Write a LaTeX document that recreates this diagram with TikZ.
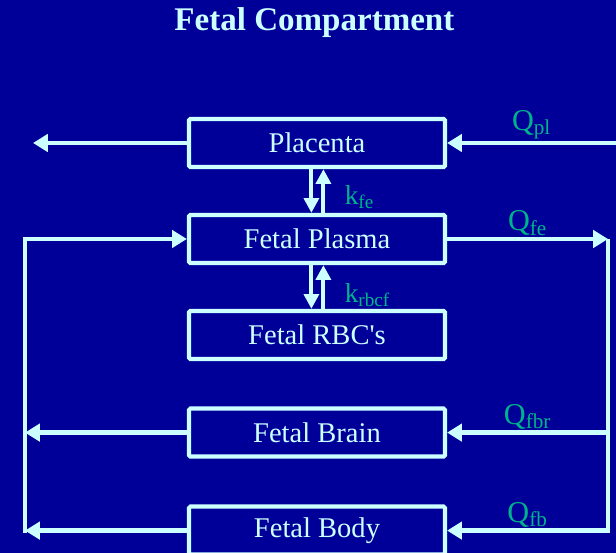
\documentclass[tikz,border=0pt]{standalone}
\usepackage{fontspec}
\setmainfont{Liberation Serif}
\usetikzlibrary{arrows.meta}

\definecolor{slideBlue}{RGB}{0,0,153}
\definecolor{lineCyan}{RGB}{204,255,255}
\definecolor{labelGreen}{RGB}{0,179,140}

\begin{document}
\begin{tikzpicture}[
        compNode/.style={
            rectangle,
            draw=lineCyan,
            line width=3pt,
            rounded corners=1pt,
            minimum width=6.4cm,
            minimum height=1.2cm,
            text=lineCyan,
            font=\fontsize{20.3}{23}\selectfont
        },
        titleNode/.style={
            text=lineCyan,
            font=\fontsize{23.5}{26}\selectfont\bfseries
        },
        flow/.style={
            lineCyan,
            line width=3pt,
            -{Triangle[length=0.37cm,width=0.43cm]}
        },
        line/.style={
            lineCyan,
            line width=3pt
        },
        rate/.style={
            lineCyan,
            line width=2.8pt,
            -{Triangle[length=0.37cm,width=0.37cm]}
        },
        flowLabel/.style={
            text=labelGreen,
            inner sep=1pt,
            font=\fontsize{21.5}{24}\selectfont
        },
        rateLabel/.style={
            text=labelGreen,
            inner sep=1pt,
            font=\fontsize{19.5}{22}\selectfont
        }
    ]
        \fill[slideBlue] (0,0) rectangle (15.4,13.825);
        \useasboundingbox (0,0) rectangle (15.4,13.825);

        \node[titleNode] (title) at (7.86,13.25) {Fetal Compartment};

        \node[compNode] (placenta) at (7.925,10.25) {Placenta};
        \node[compNode] (plasma)   at (7.925,7.85)  {Fetal Plasma};
        \node[compNode] (rbc)      at (7.925,5.45)  {Fetal RBC\textquotesingle s};
        \node[compNode] (brain)    at (7.925,3.01)  {Fetal Brain};
        \node[compNode] (body)     at (7.925,0.56)  {Fetal Body};

        \coordinate (outPl)  at (0.825,10.25);
        \coordinate (inPl)   at (15.4,10.25);
        \coordinate (retL)   at (0.625,0.5);
        \coordinate (splitR) at (15.2,7.85);
        \coordinate (retR)   at (15.2,0.5);

        % placenta in and out
        \draw[flow] (placenta) -- (outPl);
        \draw[flow] (inPl) -- (placenta)
            node[flowLabel, midway, above] {Q\textsubscript{pl}};

        % return loop and feed
        \draw[flow] (retL) |- (plasma);
        \draw[flow] (plasma) -- (splitR)
            node[flowLabel, midway, above] {Q\textsubscript{fe}};
        \draw[line] (splitR) -- (retR);

        \draw[flow] (brain -| splitR) -- (brain)
            node[flowLabel, midway, above] {Q\textsubscript{fbr}};
        \draw[flow] (brain) -- (brain -| retL);
        \draw[flow] (body -| splitR) -- (body)
            node[flowLabel, midway, above] {Q\textsubscript{fb}};
        \draw[flow] (body) -- (body -| retL);

        % exchange
        \draw[rate] ([xshift=-0.14cm]placenta.south) -- ([xshift=-0.14cm]plasma.north);
        \draw[rate] ([xshift=0.16cm]plasma.north) -- ([xshift=0.16cm]placenta.south)
            node[rateLabel, midway, anchor=west, xshift=0.45cm, yshift=-0.15cm] {k\textsubscript{fe}};
        \draw[rate] ([xshift=-0.14cm]plasma.south) -- ([xshift=-0.14cm]rbc.north);
        \draw[rate] ([xshift=0.16cm]rbc.north) -- ([xshift=0.16cm]plasma.south)
            node[rateLabel, midway, anchor=west, xshift=0.45cm, yshift=-0.2cm] {k\textsubscript{rbcf}};

    \end{tikzpicture}
\end{document}
